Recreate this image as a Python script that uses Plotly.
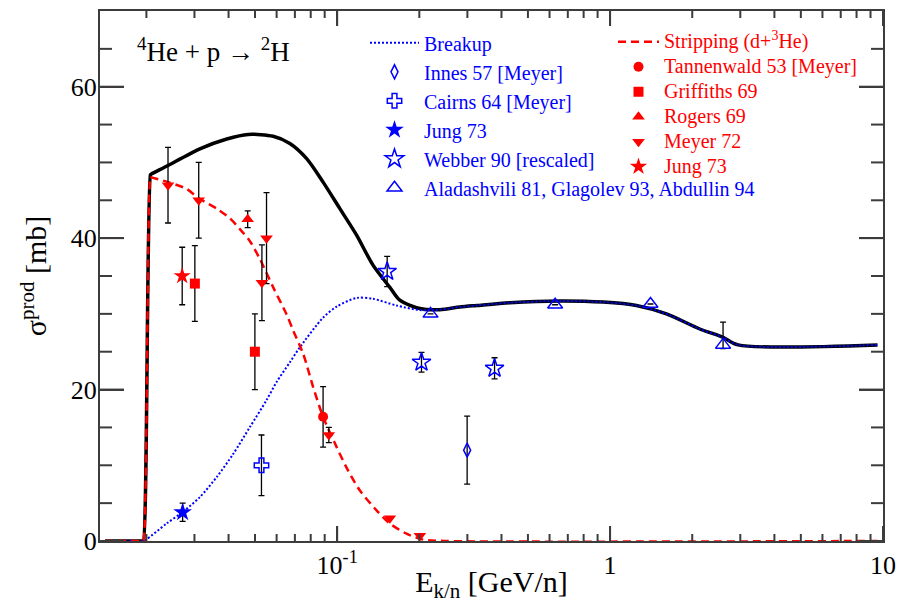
import plotly.graph_objects as go

# ---------------- curves ----------------
total_x = [0.0141, 0.0194, 0.0195, 0.0207, 0.0208, 0.0237, 0.0314, 0.0394, 0.0472, 0.0583, 0.0671,
           0.0773, 0.0888, 0.1023, 0.1178, 0.1355, 0.156, 0.1697, 0.201, 0.2378, 0.2814, 0.324,
           0.4292, 0.654, 0.943, 1.249, 1.609, 2.131, 2.594, 2.944, 9.55]
total_y = [0, 0, 0, 48.4, 48.45, 49.5, 51.8, 53.1, 53.7, 53.45, 52.5,
           50.5, 47.4, 43.9, 40.4, 36.4, 33.5, 31.8, 30.7, 30.55, 30.9, 31.1,
           31.47, 31.7, 31.55, 31.1, 30.0, 28.0, 26.9, 25.9, 25.9]

breakup_x = [0.0141, 0.0194, 0.0195, 0.0200, 0.0237, 0.02715, 0.0314, 0.0362, 0.0416, 0.0479, 0.0551,
             0.060, 0.0671, 0.0724, 0.0888, 0.100, 0.1178, 0.135, 0.165, 0.201, 0.2378,
             0.2814, 0.324, 0.4292, 0.654, 0.943, 1.249, 1.609, 2.131, 2.594, 2.944, 9.55]
breakup_y = [0, 0, 0, 0.2, 2.3, 3.83, 5.8, 8.45, 11.5, 15.05, 18.6,
             21.0, 23.6, 25.4, 29.5, 31.0, 32.1, 32.0, 31.1, 30.5, 30.55,
             30.9, 31.1, 31.47, 31.7, 31.55, 31.1, 30.0, 28.0, 26.9, 25.9, 25.9]

strip_x = [0.0141, 0.0194, 0.0195, 0.0207, 0.0208, 0.0240, 0.0281, 0.0310, 0.0362, 0.0405, 0.0440, 0.0479,
           0.0520, 0.0583, 0.0653, 0.0690, 0.0751, 0.0817, 0.0888, 0.0981, 0.1082, 0.121,
           0.1394, 0.156, 0.1795, 0.2065, 0.25, 9.55]
strip_y = [0, 0, 0, 48.1, 48.05, 47.4, 46.5, 45.3, 43.9, 42.6, 41.2, 39.6,
           37.3, 33.5, 29.9, 27.8, 24.7, 20.3, 16.4, 12.9, 9.7, 6.7,
           4.05, 2.3, 0.97, 0.18, 0, 0]

# ---------------- data points ----------------
innes_x, innes_y, innes_e = [0.2994], [12.0], [4.5]
cairns_x, cairns_y, cairns_e = [0.0528], [10.0], [4.0]
jungb_x, jungb_y, jungb_e = [0.02715], [3.8], [1.2]
webber_x = [0.1525, 0.2037, 0.3773]
webber_y = [35.6, 23.6, 22.8]
webber_e = [2.0, 1.3, 1.4]
alad_x = [0.2198, 0.629, 1.406, 2.594]
alad_y = [30.0, 31.2, 31.3, 25.9]
alad_ep = [0, 0, 0, 3.0]
alad_em = [0, 0, 0, 0.5]

tann_x, tann_y, tann_e = [0.0888], [16.4], [4.0]
grif_x, grif_y, grif_e = [0.0301, 0.04995], [34.0, 25.0], [5.0, 5.0]
rog_x, rog_y, rog_e = [0.047], [42.5], [1.1]
meyer_x = [0.0240, 0.0311, 0.0530, 0.0551, 0.0932, 0.156, 0.201]
meyer_y = [47.0, 45.0, 34.1, 40.0, 14.0, 3.0, 0.7]
meyer_e = [5.0, 5.0, 5.0, 6.0, 1.0, 0, 0]
jungr_x, jungr_y, jungr_e = [0.02705], [35.0], [3.8]

xtick_vals = [0.1, 1, 10]
xtick_text = ["10<sup>-1</sup>", "1", "10"]
xminor_vals = [0.02, 0.03, 0.04, 0.05, 0.06, 0.07, 0.08, 0.09,
               0.2, 0.3, 0.4, 0.5, 0.6, 0.7, 0.8, 0.9,
               2, 3, 4, 5, 6, 7, 8, 9]
ytick_vals = [0, 20, 40, 60]
yminor_vals = [5, 10, 15, 25, 30, 35, 45, 50, 55, 65]

FONT = "Liberation Serif"
BLUE = "#0000ff"
RED = "#ff0000"
AX = "#3c3c3c"
XRANGE = [-1.869, 1.0]
YRANGE = [0, 70]


def rs(t):
    return '<span style="font-size:20px">' + t + '</span>'


fig = go.Figure()

fig.add_trace(go.Scatter(x=total_x, y=total_y, mode="lines", showlegend=False,
                         line=dict(color="black", width=3.5, shape="spline", smoothing=0.8)))
fig.add_trace(go.Scatter(x=breakup_x, y=breakup_y, mode="lines", name="Breakup",
                         legend="legend", line=dict(color=BLUE, width=2, dash="2px,2px",
                                                    shape="spline", smoothing=0.8)))
fig.add_trace(go.Scatter(x=strip_x, y=strip_y, mode="lines", name=rs("Stripping (d+<sup>3</sup>He)"),
                         legend="legend2", line=dict(color=RED, width=2.5, dash="8px,5px",
                                                     shape="spline", smoothing=0.8)))

err = dict(type="data", color="black", thickness=1.3, width=3)


def pts(x, y, e, name, sym, size, color, leg, lw=1.5, em=None):
    ed = dict(err, array=e)
    if em is not None:
        ed = dict(err, array=e, arrayminus=em, symmetric=False)
    fig.add_trace(go.Scatter(x=x, y=y, mode="markers", name=name, legend=leg,
                             error_y=ed,
                             marker=dict(symbol=sym, size=size, color=color,
                                         line=dict(color=color, width=lw))))


pts(innes_x, innes_y, innes_e, "Innes 57 [Meyer]", "diamond-tall-open", 10, BLUE, "legend")
pts(cairns_x, cairns_y, cairns_e, "Cairns 64 [Meyer]", "cross-open", 12, BLUE, "legend")
pts(jungb_x, jungb_y, jungb_e, "Jung 73", "star", 14, BLUE, "legend", lw=0)
pts(webber_x, webber_y, webber_e, "Webber 90 [rescaled]", "star-open", 14, BLUE, "legend")
pts(alad_x, alad_y, alad_ep, "Aladashvili 81, Glagolev 93, Abdullin 94", "triangle-up-open", 13, BLUE,
    "legend", em=alad_em)

pts(tann_x, tann_y, tann_e, rs("Tannenwald 53 [Meyer]"), "circle", 10, RED, "legend2", lw=0)
pts(grif_x, grif_y, grif_e, rs("Griffiths 69"), "square", 10, RED, "legend2", lw=0)
pts(rog_x, rog_y, rog_e, rs("Rogers 69"), "triangle-up", 11, RED, "legend2", lw=0)
pts(meyer_x, meyer_y, meyer_e, rs("Meyer 72"), "triangle-down", 11, RED, "legend2", lw=0)
pts(jungr_x, jungr_y, jungr_e, rs("Jung 73"), "star", 13, RED, "legend2", lw=0)

tick_common = dict(ticks="inside", tickcolor=AX, tickwidth=2, showgrid=False, zeroline=False,
                   automargin=False)

fig.update_layout(
    xaxis=dict(type="log", range=XRANGE, tickmode="array", tickvals=xtick_vals,
               ticktext=xtick_text, ticklen=15, showline=True, linecolor=AX, linewidth=2,
               mirror="ticks", tickfont=dict(family=FONT, size=26, color="black"),
               title=dict(text="E<sub>k/n</sub> [GeV/n]",
                          font=dict(family=FONT, size=30, color="black")),
               **tick_common),
    yaxis=dict(range=YRANGE, tickmode="array", tickvals=ytick_vals, ticklen=24,
               showline=True, linecolor=AX, linewidth=2, mirror="ticks",
               ticklabelstandoff=-4,
               tickfont=dict(family=FONT, size=26, color="black"),
               title=dict(text="σ<sup>prod</sup> [mb]",
                          font=dict(family=FONT, size=30, color="black")),
               **tick_common),
)

# tick marks on all four sides (major and minor), placed at the tick values
tick_line = dict(color=AX, width=2)
for vals, length in ((xtick_vals, 15), (xminor_vals, 7)):
    for v in vals:
        fig.add_shape(type="line", xref="x", yref="paper", x0=v, x1=v,
                      ysizemode="pixel", yanchor=0, y0=0, y1=length, line=tick_line)
        fig.add_shape(type="line", xref="x", yref="paper", x0=v, x1=v,
                      ysizemode="pixel", yanchor=1, y0=0, y1=-length, line=tick_line)
for vals, length in ((ytick_vals, 24), (yminor_vals, 12)):
    for v in vals:
        fig.add_shape(type="line", xref="paper", yref="y", y0=v, y1=v,
                      xsizemode="pixel", xanchor=0, x0=0, x1=length, line=tick_line)
        fig.add_shape(type="line", xref="paper", yref="y", y0=v, y1=v,
                      xsizemode="pixel", xanchor=1, x0=0, x1=-length, line=tick_line)

fig.add_annotation(text="<sup>4</sup>He + p → <sup>2</sup>H", xref="paper", yref="paper",
                   x=(135 - 100) / 783, y=(540.7 - 50) / 530, xanchor="left", yanchor="middle",
                   showarrow=False, font=dict(family=FONT, size=27, color="black"))

fig.update_layout(
    width=898, height=603,
    margin=dict(l=100, r=15, t=11, b=62),
    paper_bgcolor="white", plot_bgcolor="white",
    legend=dict(xref="paper", yref="paper", x=(365 - 100) / 783, y=(540.7 - 23) / 530,
                xanchor="left", yanchor="top", bgcolor="rgba(0,0,0,0)", borderwidth=0,
                itemwidth=49, tracegroupgap=0,
                font=dict(family=FONT, size=20, color=BLUE)),
    legend2=dict(xref="paper", yref="paper", x=(613 - 100) / 783, y=(540.7 - 24) / 530,
                 xanchor="left", yanchor="top", bgcolor="rgba(0,0,0,0)", borderwidth=0,
                 itemwidth=41, tracegroupgap=0,
                 font=dict(family=FONT, size=16.9, color=RED)),
)

fig.write_html("out.html")
